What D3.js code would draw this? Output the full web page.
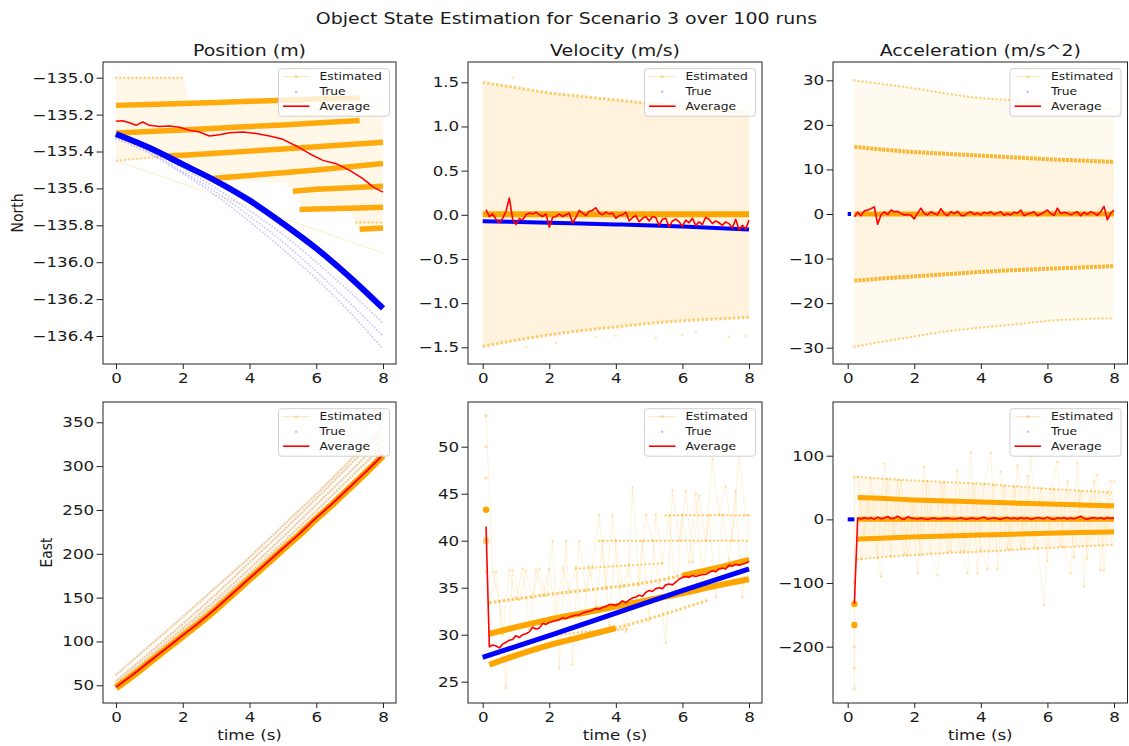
<!DOCTYPE html>
<html><head><meta charset="utf-8">
<script src="https://cdn.jsdelivr.net/npm/d3@7"></script>
<style>
body{margin:0;background:#fff}
svg{display:block}
text{font-family:"DejaVu Sans",sans-serif;fill:#1a1a1a}
</style>
</head><body>
<svg id="c" width="1129" height="746"></svg>
<script>
// ------------------------- DATA -------------------------
const suptitle = "Object State Estimation for Scenario 3 over 100 runs";
const colTitles = ["Position (m)", "Velocity (m/s)", "Acceleration (m/s^2)"];
const rowLabels = ["North", "East"];
const xLabel = "time (s)";
const legendLabels = ["Estimated", "True", "Average"];
const xTicks = [0, 2, 4, 6, 8];
const yTicksPosN = [-135.0, -135.2, -135.4, -135.6, -135.8, -136.0, -136.2, -136.4];
const yTicksVelN = [1.5, 1.0, 0.5, 0.0, -0.5, -1.0, -1.5];
const yTicksAccN = [30, 20, 10, 0, -10, -20, -30];
const yTicksPosE = [350, 300, 250, 200, 150, 100, 50];
const yTicksVelE = [50, 45, 40, 35, 30, 25];
const yTicksAccE = [100, 0, -100, -200];

const tSec = [0, 1, 2, 3, 4, 5, 6, 7, 8];
const tHalf = [0, 0.5, 1, 1.5, 2, 2.5, 3, 3.5, 4, 4.5, 5, 5.5, 6, 6.5, 7, 7.5, 8];
const tFine = [0.1,0.2,0.3,0.4,0.5,0.6,0.7,0.8,0.9,1.0,
  1.1,1.2,1.3,1.4,1.5,1.6,1.7,1.8,1.9,2.0,
  2.1,2.2,2.3,2.4,2.5,2.6,2.7,2.8,2.9,3.0,
  3.1,3.2,3.3,3.4,3.5,3.6,3.7,3.8,3.9,4.0,
  4.1,4.2,4.3,4.4,4.5,4.6,4.7,4.8,4.9,5.0,
  5.1,5.2,5.3,5.4,5.5,5.6,5.7,5.8,5.9,6.0,
  6.1,6.2,6.3,6.4,6.5,6.6,6.7,6.8,6.9,7.0,
  7.1,7.2,7.3,7.4,7.5,7.6,7.7,7.8,7.9,8.0];
const tOdd = [0.1,0.3,0.5,0.7,0.9,1.1,1.3,1.5,1.7,1.9,2.1,2.3,2.5,2.7,2.9,3.1,3.3,3.5,3.7,3.9,
  4.1,4.3,4.5,4.7,4.9,5.1,5.3,5.5,5.7,5.9,6.1,6.3,6.5,6.7,6.9,7.1,7.3,7.5,7.7,7.9];
const tEven = [0.2,0.4,0.6,0.8,1.0,1.2,1.4,1.6,1.8,2.0,2.2,2.4,2.6,2.8,3.0,3.2,3.4,3.6,3.8,4.0,
  4.2,4.4,4.6,4.8,5.0,5.2,5.4,5.6,5.8,6.0,6.2,6.4,6.6,6.8,7.0,7.2,7.4,7.6,7.8,8.0];

// --- Position North ---
const posN_b1_t = [0, 1, 2, 3, 4, 5, 6, 7.3];
const posN_b1_v = [-135.150, -135.145, -135.140, -135.134, -135.128, -135.122, -135.116, -135.110];
const posN_b2_t = [0, 1, 2, 3, 4, 5, 6, 7.3];
const posN_b2_v = [-135.300, -135.292, -135.283, -135.274, -135.265, -135.256, -135.246, -135.232];
const posN_b3a_t = [0, 1.5];
const posN_b3a_v = [-135.450, -135.425];
const posN_b3_t = [1.5, 2, 3, 4, 5, 6, 7, 8];
const posN_b3_v = [-135.425, -135.420, -135.410, -135.398, -135.386, -135.374, -135.362, -135.350];
const posN_b4_t = [2.8, 3.3, 4, 5, 6, 7, 8];
const posN_b4_v = [-135.548, -135.540, -135.530, -135.515, -135.500, -135.483, -135.465];
const posN_b5_t = [5.3, 6, 7, 8];
const posN_b5_v = [-135.615, -135.605, -135.596, -135.588];
const posN_b6_t = [5.5, 6, 7, 8];
const posN_b6_v = [-135.715, -135.712, -135.707, -135.702];
const posN_b7_t = [7.3, 8];
const posN_b7_v = [-135.822, -135.815];
const posN_b8_t = [7.2, 8];
const posN_b8_v = [-135.785, -135.785];
const posN_top_t = [0, 2];
const posN_top_v = [-135.0, -135.0];
const posN_diag_t = [0, 8];
const posN_diag_v = [-135.45, -135.95];
const posN_env_t = [0, 1, 2, 2.2, 3, 4, 5, 5.4, 5.6, 7, 7.3, 8];
const posN_env_hi = [-135.0, -135.0, -135.0, -135.13, -135.13, -135.125, -135.12, -135.12, -135.115, -135.11, -135.11, -135.11];
const posN_env_lo = [-135.45, -135.44, -135.45, -135.48, -135.56, -135.56, -135.57, -135.62, -135.72, -135.72, -135.83, -135.83];
const posN_true_main = [-135.305, -135.38, -135.47, -135.56, -135.665, -135.79, -135.925, -136.08, -136.25];
const posN_true_r1 = [-135.31, -135.39, -135.49, -135.60, -135.72, -135.85, -136.00, -136.16, -136.33];
const posN_true_r2 = [-135.32, -135.40, -135.51, -135.62, -135.75, -135.89, -136.05, -136.22, -136.40];
const posN_true_r3 = [-135.33, -135.41, -135.52, -135.64, -135.78, -135.93, -136.09, -136.27, -136.47];
const posN_avg_t = [0,0.2,0.4,0.6,0.8,1.0,1.3,1.6,1.9,2.2,2.5,2.8,3.1,3.4,3.8,4.2,4.6,5.0,5.4,5.8,6.2,6.6,7.0,7.4,7.7,8.0];
const posN_avg_v = [-135.236,-135.233,-135.244,-135.258,-135.240,-135.258,-135.264,-135.262,-135.269,-135.285,
  -135.294,-135.316,-135.309,-135.298,-135.294,-135.303,-135.316,-135.334,-135.370,-135.412,
  -135.448,-135.466,-135.502,-135.547,-135.592,-135.620];

// --- Velocity North ---
const velN_top_v = [1.50, 1.44, 1.38, 1.34, 1.30, 1.26, 1.22, 1.19, 1.16];
const velN_bot_v = [-1.49, -1.42, -1.36, -1.31, -1.27, -1.23, -1.20, -1.18, -1.16];
const velN_mid_t = [0, 8];
const velN_mid_v = [0.005, 0.005];
const velN_true_t = [0, 2, 4, 6, 8];
const velN_true_v = [-0.072, -0.090, -0.109, -0.133, -0.166];
const velN_out_t = [0.9, 1.3, 2.2, 3.4, 4.0, 5.2, 6.0, 6.4, 7.4, 7.9];
const velN_out_v = [1.55, -1.50, -1.45, -1.38, -1.37, -1.40, -1.36, -1.33, -1.38, -1.37];
const velN_avg = [0.06,-0.02,0.01,-0.05,-0.09,-0.04,0.04,0.19,-0.05,-0.11,
  -0.04,-0.06,0.0,0.02,0.01,0.03,0.0,-0.02,0.01,-0.14,
  -0.03,-0.02,0.01,-0.02,0.0,0.02,-0.09,-0.03,0.05,0.02,
  -0.01,0.04,0.05,0.08,0.02,0.0,0.03,0.01,0.02,-0.04,
  -0.01,0.0,0.03,-0.07,-0.03,-0.01,-0.08,-0.04,-0.02,-0.07,
  -0.02,-0.03,-0.12,-0.05,-0.04,-0.14,-0.07,-0.05,-0.08,-0.13,
  -0.06,-0.09,-0.04,-0.12,-0.08,-0.11,-0.03,-0.05,-0.10,-0.07,
  -0.09,-0.12,-0.08,-0.10,-0.15,-0.05,-0.17,-0.12,-0.16,-0.06];

// --- Acceleration North ---
const accN_t = [0.2, 1, 2, 3, 4, 5, 6, 7, 8];
const accN_p15 = [15.1, 14.5, 13.9, 13.5, 13.1, 12.7, 12.3, 12.0, 11.7];
const accN_m15 = [-15.0, -14.5, -14.0, -13.5, -13.0, -12.6, -12.3, -12.0, -11.7];
const accN_p30 = [30.0, 29.2, 28.2, 27.0, 26.0, 25.5, 25.0, 24.2, 23.5];
const accN_m30 = [-29.8, -28.7, -27.5, -26.3, -25.5, -24.8, -24.0, -23.6, -23.4];
const accN_mid_t = [0.2, 8];
const accN_mid_v = [0, 0];
const accN_true_t = [0, 0.1];
const accN_true_v = [0, 0];
const accN_avg = [-0.6,0.4,-0.4,0.7,0.9,1.2,1.6,-2.3,-0.2,
  0.5,-0.1,0.9,0.5,0.6,0.1,-0.2,-0.1,-0.3,-1.1,
  0.2,1.3,0.1,-0.2,0.5,0.1,-0.2,1.2,0.1,-0.4,
  0.5,0.1,0.6,-0.3,-0.4,0.2,0.5,-0.1,0.2,-0.2,
  0.4,0.1,0.5,-0.1,0.2,0.5,-0.3,0.1,-0.2,0.4,
  0.2,0.9,-0.4,0.0,0.2,0.5,-0.4,0.0,0.4,0.9,
  0.1,-0.3,1.3,0.1,0.4,0.2,-0.2,0.2,0.5,-0.4,
  0.4,-0.1,0.5,0.2,-0.3,0.5,1.7,-1.3,0.2,0.9];

// --- Position East ---
const posE_est_main = [47,61,76,91,106,121,137,154,171,188,205,222,240,257,275,293,312];
const posE_avg = [48,62,77,92,107,122,138,155,172,189,206,223,241,258,276,294,313];
const posE_run1 = [62, 95, 128, 162, 196, 232, 268, 306, 345];
const posE_run2 = [55, 87, 120, 154, 190, 226, 263, 301, 339];
const posE_run3 = [52, 83, 115, 148, 183, 219, 256, 293, 331];
const posE_run4 = [50, 80, 112, 144, 178, 213, 249, 286, 323];

// --- Velocity East ---
const velE_A_t = [0.2, 1, 2, 3, 4, 5, 6, 7, 8];
const velE_A_v = [30.1, 30.8, 31.6, 32.3, 33.0, 33.7, 34.4, 35.2, 35.9];
const velE_B_t = [0.2, 1, 2, 3, 4, 5, 6, 6.8];
const velE_B_v = [26.8, 27.8, 28.9, 29.8, 30.7, 31.7, 32.8, 33.7];
const velE_C_t = [0.2, 1, 2, 3, 4, 5, 6, 7, 8];
const velE_C_v = [33.4, 33.8, 34.3, 34.7, 35.1, 35.6, 36.3, 37.1, 38.0];
const velE_D_t = [3.5, 8];
const velE_D_v = [40.0, 40.0];
const velE_E_t = [2.8, 4, 5.5];
const velE_E_v = [37.0, 37.3, 37.6];
const velE_F_t = [5.5, 8];
const velE_F_v = [42.7, 42.7];
const velE_G_t = [2.0, 3.0, 4.4];
const velE_G_v = [29.8, 30.3, 30.6];
const velE_true_t = [0, 2, 4, 6, 8];
const velE_true_v = [27.6, 29.9, 32.3, 34.7, 37.0];
const velE_start_v = [53.3, 50.0, 46.7, 43.3, 40.0, 36.7];
const velE_start_n = [1, 2, 3, 30, 10, 2];
const velE_run1 = [53.3,36.7,33.5,24.3,36.9,33.7,36.8,33.9,37.0,34.1,
  40.0,26.4,40.0,26.8,40.0,34.6,37.3,42.8,34.9,42.7,
  35.0,30.3,45.7,35.2,42.8,40.0,35.5,29.1,45.4,40.0,
  45.3,37.7,44.8,40.0,48.7,42.8,45.8,40.0,49.0,42.7];
const velE_run2 = [33.4,36.7,30.0,36.9,33.8,37.0,30.5,36.9,34.2,37.0,
  31.6,37.1,34.5,37.2,29.8,37.3,33.0,40.0,31.0,40.0,
  35.1,37.5,33.5,40.0,31.5,42.8,37.6,42.7,34.5,42.8,
  37.7,45.0,36.0,42.7,34.0,42.8,37.9,45.3,34.0,42.7];
const velE_avg = [41.5,28.7,28.9,28.8,28.6,29.0,29.2,29.4,29.5,29.9,
  29.7,30.0,30.1,30.3,30.8,30.6,30.7,31.2,31.1,31.3,
  31.4,31.5,31.6,31.8,31.7,31.9,32.0,32.1,32.1,32.3,
  32.4,32.5,32.6,32.8,32.7,32.9,33.0,33.2,33.2,33.1,
  33.3,33.6,33.4,33.7,33.9,34.0,34.2,34.1,34.5,34.7,
  34.6,34.9,35.0,34.9,35.3,35.4,35.3,35.6,35.9,36.1,
  36.2,36.1,36.3,36.2,36.3,36.4,36.4,36.6,36.8,36.7,
  37.0,37.1,37.0,37.4,37.3,37.5,37.4,37.5,37.6,37.8];

// --- Acceleration East ---
const accE_t = [0.3, 1, 2, 3, 4, 5, 6, 7, 8];
const accE_p33 = [34.5, 33.0, 30.5, 28.8, 27.3, 25.6, 24.0, 22.6, 21.3];
const accE_m33 = [-31.0, -29.5, -27.5, -26.0, -24.6, -23.2, -22.0, -20.8, -19.6];
const accE_p66 = [67, 64, 61, 58.5, 56, 52, 48, 45, 42];
const accE_m66 = [-63, -59.5, -56, -53, -50.8, -48, -45, -42.5, -40];
const accE_mid_t = [0.3, 8];
const accE_mid_v = [0, 0];
const accE_true_t = [0, 0.1, 0.2];
const accE_true_v = [0, 0, 0];
const accE_start_v = [66, -100, -133, -166, -200, -233, -266];
const accE_start_n = [3, 5, 40, 30, 3, 2, 1];
const accE_run1 = [66,-30,64,-61,88,-58,62,-55,30,-85,83,-53,-88,58,-50,77,-49,105,-85,56,
  105,-78,52,-47,85,-46,100,-45,-135,48,90,-44,-85,88,-105,45,70,-80,60];
const accE_run2 = [-62,33,-31,-90,64,-30,61,-57,31,-56,60,-29,57,-52,28,-50,-85,55,-48,-78,
  53,75,-46,51,-45,68,-44,49,-65,47,-42,60,-60,44,-62,60,-80,42,60];
const accE_avg = [-133,2,0.5,3,1,2.5,0,3.5,1,
  2,4.5,1,2,5,1.5,0,4,2,1.5,
  0.5,2,1,0,1.5,2,0.5,1,1.5,2,
  1,0.5,1.5,2.5,1,0,2,1.5,0.5,2,
  3.5,0.5,1.5,2.5,1,0,2,3,1,2,
  0.5,3,1,2.5,0,1.5,3,2,1,3.5,
  1,0,2.5,1.5,3,0.5,2,1,2.5,5,
  1.5,0,2,3,1,2.5,0.5,3,1.5,2];

// ------------------------- DRAWING -------------------------
const svg = d3.select("#c");
const ORANGE = "#ffa500", BLUE = "#0000ff", RED = "#ff0000";
const SX = 1.2;
const fmt1 = d3.format(".1f"), fmt0 = d3.format("d");

function panel(id, box, xr, yd, yr) {
  const [L, T, R, B] = box;
  const x = d3.scaleLinear().domain([0, 8]).range(xr);
  const y = d3.scaleLinear().domain(yd).range(yr);
  const g = svg.append("g");
  svg.append("clipPath").attr("id", "clip" + id)
    .append("rect").attr("x", L).attr("y", T).attr("width", R - L).attr("height", B - T);
  const plot = g.append("g").attr("clip-path", `url(#clip${id})`);
  return {x, y, g, plot, L, T, R, B};
}

function line(p, ts, vs, st) {
  const data = d3.zip(ts, vs);
  const path = p.plot.append("path").datum(data)
    .attr("d", d3.line().x(d => p.x(d[0])).y(d => p.y(d[1])).curve(st.curve || d3.curveLinear))
    .attr("fill", "none").attr("stroke", st.stroke || ORANGE)
    .attr("stroke-width", st.width || 1).attr("stroke-opacity", st.opacity == null ? 1 : st.opacity)
    .attr("stroke-linecap", st.cap || "butt").attr("stroke-linejoin", "round");
  if (st.dash) path.attr("stroke-dasharray", st.dash);
  return path;
}
function area(p, ts, lo, hi, op, curve) {
  const data = d3.zip(ts, lo, hi);
  p.plot.append("path").datum(data)
    .attr("d", d3.area().x(d => p.x(d[0])).y0(d => p.y(d[1])).y1(d => p.y(d[2])).curve(curve || d3.curveLinear))
    .attr("fill", ORANGE).attr("fill-opacity", op);
}
function dots(p, ts, vs, r, op, color) {
  p.plot.append("g").selectAll("circle").data(d3.zip(ts, vs)).join("circle")
    .attr("cx", d => p.x(d[0])).attr("cy", d => p.y(d[1])).attr("r", r)
    .attr("fill", color || ORANGE).attr("fill-opacity", op);
}
function filterT(ts, vs, f) {
  const out = [[], []];
  ts.forEach((t, i) => { if (f(t)) { out[0].push(t); out[1].push(vs[i]); } });
  return out;
}

const S = {
  thick: {width: 5.5, opacity: 1},
  thick4: {width: 4.2, opacity: 0.95},
  med: {width: 3.5, opacity: 0.7, dash: "3 1.5"},
  dot: {width: 2.4, opacity: 0.5, dash: "0.1 4", cap: "round"},
  thin: {width: 1, opacity: 0.22},
  run: {width: 1, opacity: 0.16}
};
const mono = d3.curveMonotoneX;

function finish(p, yTicks, yFmt, title, ylabel, xlab) {
  const {g, L, T, R, B, x, y} = p;
  const xa = g.append("g").attr("transform", `translate(0,${B})`)
    .call(d3.axisBottom(x).tickValues(xTicks).tickSize(5).tickPadding(4.3).tickFormat(fmt0));
  const ya = g.append("g").attr("transform", `translate(${L},0)`)
    .call(d3.axisLeft(y).tickValues(yTicks).tickSize(6.5).tickFormat(yFmt));
  [xa, ya].forEach(a => {
    a.select(".domain").remove();
    a.attr("font-family", null).attr("font-size", null);
    a.selectAll("line").attr("stroke", "#222").attr("stroke-width", 1);
    a.selectAll("text").attr("font-size", 13.9).attr("fill", "#1a1a1a");
  });
  xa.selectAll("text").attr("transform", `scale(${SX},1)`);
  ya.selectAll("text").attr("x", 0).attr("transform", `translate(-8.8,0) scale(${SX},1)`);
  g.append("rect").attr("x", L).attr("y", T).attr("width", R - L).attr("height", B - T)
    .attr("fill", "none").attr("stroke", "#222").attr("stroke-width", 1);
  if (title) g.append("text").attr("transform", `translate(${(L + R) / 2},56) scale(${SX},1)`)
    .attr("text-anchor", "middle").attr("font-size", 15.8).text(title);
  if (ylabel) g.append("text")
    .attr("transform", `translate(${ylabel[0]},${(T + B) / 2}) scale(${SX},1) rotate(-90)`)
    .attr("text-anchor", "middle").attr("font-size", 13.9).text(ylabel[1]);
  if (xlab) g.append("text").attr("transform", `translate(${(L + R) / 2},740) scale(${SX},1)`)
    .attr("text-anchor", "middle").attr("font-size", 13.9).text(xLabel);
  // legend
  const bw = 111, bh = 47.5, bx = R - 6.5 - bw, by = T + 6.7;
  const lg = g.append("g");
  lg.append("rect").attr("x", bx).attr("y", by).attr("width", bw).attr("height", bh)
    .attr("rx", 3).attr("fill", "#fff").attr("fill-opacity", 0.8)
    .attr("stroke", "#d0d0d0").attr("stroke-width", 1);
  const rows = [by + 8, by + 23, by + 37.5];
  lg.append("line").attr("x1", bx + 4.5).attr("x2", bx + 31).attr("y1", rows[0]).attr("y2", rows[0])
    .attr("stroke", ORANGE).attr("stroke-opacity", 0.3).attr("stroke-width", 1);
  lg.append("circle").attr("cx", bx + 17.7).attr("cy", rows[0]).attr("r", 1.6).attr("fill", ORANGE).attr("fill-opacity", 0.35);
  lg.append("circle").attr("cx", bx + 17.7).attr("cy", rows[1]).attr("r", 1.3).attr("fill", BLUE).attr("fill-opacity", 0.25);
  lg.append("line").attr("x1", bx + 4.5).attr("x2", bx + 31).attr("y1", rows[2]).attr("y2", rows[2])
    .attr("stroke", RED).attr("stroke-width", 1.6);
  legendLabels.forEach((lab, i) => {
    lg.append("text").attr("transform", `translate(${bx + 41},${rows[i]}) scale(${SX},1)`)
      .attr("dy", "0.36em").attr("font-size", 10.3).text(lab);
  });
}

// suptitle
svg.append("text").attr("transform", `translate(566.5,24) scale(${SX},1)`)
  .attr("text-anchor", "middle").attr("font-size", 15.8).text(suptitle);

// ---------- Position North ----------
{
  const p = panel("pn", [103, 62, 396, 364], [116, 383], [-135.0, -136.4], [77.7, 336]);
  area(p, posN_env_t, posN_env_lo, posN_env_hi, 0.09);
  line(p, posN_top_t, posN_top_v, S.dot);
  line(p, posN_diag_t, posN_diag_v, S.thin);
  line(p, posN_b3a_t, posN_b3a_v, {width: 2, opacity: 0.45, dash: "2 2"});
  line(p, posN_b8_t, posN_b8_v, S.dot);
  [[posN_b1_t, posN_b1_v], [posN_b2_t, posN_b2_v], [posN_b3_t, posN_b3_v], [posN_b4_t, posN_b4_v],
   [posN_b5_t, posN_b5_v], [posN_b6_t, posN_b6_v], [posN_b7_t, posN_b7_v]]
    .forEach(([t, v]) => line(p, t, v, {width: 5.5, opacity: 0.95}));
  [posN_true_r3, posN_true_r2, posN_true_r1].forEach(v =>
    line(p, tSec, v, {stroke: BLUE, width: 1.8, opacity: 0.22, dash: "0.1 3.2", cap: "round", curve: mono}));
  line(p, tSec, posN_true_main, {stroke: BLUE, width: 6, opacity: 1, curve: mono});
  line(p, posN_avg_t, posN_avg_v, {stroke: RED, width: 1.5});
  finish(p, yTicksPosN, fmt1, colTitles[0], [23, rowLabels[0]], false);
}

// ---------- Velocity North ----------
{
  const p = panel("vn", [468, 62, 762, 364], [482.7, 749], [1.5, -1.5], [82.3, 347.3]);
  area(p, tSec, velN_bot_v, velN_top_v, 0.13, mono);
  line(p, tSec, velN_top_v, {width: 3, opacity: 0.55, dash: "2.5 2", curve: mono});
  line(p, tSec, velN_bot_v, {width: 3, opacity: 0.55, dash: "2.5 2", curve: mono});
  dots(p, velN_out_t, velN_out_v, 1.3, 0.3);
  line(p, velN_mid_t, velN_mid_v, {width: 6, opacity: 1});
  line(p, velN_true_t, velN_true_v, {stroke: BLUE, width: 4, opacity: 1, curve: mono});
  line(p, tFine, velN_avg, {stroke: RED, width: 1.6});
  finish(p, yTicksVelN, fmt1, colTitles[1], null, false);
}

// ---------- Acceleration North ----------
{
  const p = panel("an", [833, 62, 1127.5, 364], [847.7, 1114], [30, -30], [80.3, 347.7]);
  area(p, accN_t, accN_p15, accN_p30, 0.06, mono);
  area(p, accN_t, accN_m30, accN_m15, 0.06, mono);
  area(p, accN_t, accN_m15, accN_p15, 0.12, mono);
  line(p, accN_t, accN_p30, Object.assign({curve: mono}, S.dot));
  line(p, accN_t, accN_m30, Object.assign({curve: mono}, S.dot));
  line(p, accN_t, accN_p15, {width: 4, opacity: 0.8, dash: "3 1", curve: mono});
  line(p, accN_t, accN_m15, {width: 4, opacity: 0.8, dash: "3 1", curve: mono});
  line(p, accN_mid_t, accN_mid_v, {width: 5, opacity: 1});
  line(p, accN_true_t, accN_true_v, {stroke: BLUE, width: 4, opacity: 1});
  line(p, tFine.slice(1), accN_avg, {stroke: RED, width: 1.6});
  finish(p, yTicksAccN, fmt0, colTitles[2], null, false);
}

// ---------- Position East ----------
{
  const p = panel("pe", [103, 402, 396, 703], [116, 383], [350, 50], [422.3, 685.3]);
  [posE_run1, posE_run2, posE_run3, posE_run4].forEach(v => {
    line(p, tSec, v, {stroke: "#f3d3a0", width: 3, opacity: 0.35, curve: mono});
    line(p, tSec, v, {stroke: "#c8a070", width: 1.8, opacity: 0.5, dash: "0.1 3", cap: "round", curve: mono});
  });
  line(p, tHalf, posE_est_main, {width: 7, opacity: 1, curve: mono});
  line(p, tHalf, posE_avg, {stroke: RED, width: 2, curve: mono});
  finish(p, yTicksPosE, fmt0, null, [51.7, rowLabels[1]], true);
}

// ---------- Velocity East ----------
{
  const p = panel("ve", [468, 402, 762, 703], [482.7, 749], [50, 25], [446.7, 681.7]);
  line(p, tOdd, velE_run1, S.run);
  line(p, tEven, velE_run2, S.run);
  dots(p, tOdd, velE_run1, 1.2, 0.3);
  dots(p, tEven, velE_run2, 1.2, 0.3);
  line(p, velE_D_t, velE_D_v, S.dot);
  line(p, velE_E_t, velE_E_v, S.dot);
  line(p, velE_F_t, velE_F_v, S.dot);
  line(p, velE_G_t, velE_G_v, S.dot);
  line(p, velE_B_t, velE_B_v, {width: 3, opacity: 0.55, dash: "2.5 2", curve: mono});
  line(p, velE_C_t, velE_C_v, {width: 3, opacity: 0.6, dash: "2.5 2", curve: mono});
  const bThick = filterT(velE_B_t, velE_B_v, t => t <= 4);
  line(p, bThick[0], bThick[1], {width: 6, opacity: 1, curve: mono});
  const cThick = filterT(velE_C_t, velE_C_v, t => t >= 6);
  line(p, cThick[0], cThick[1], {width: 5.5, opacity: 1, curve: mono});
  line(p, velE_A_t, velE_A_v, {width: 6, opacity: 1, curve: mono});
  line(p, velE_true_t, velE_true_v, {stroke: BLUE, width: 5, opacity: 1, curve: mono});
  velE_start_v.forEach((v, i) => {
    const n = velE_start_n[i];
    p.plot.append("circle").attr("cx", p.x(0.1)).attr("cy", p.y(v))
      .attr("r", n > 5 ? 3.2 : 1.8).attr("fill", ORANGE).attr("fill-opacity", Math.min(1, 0.2 + n / 30));
  });
  line(p, tFine, velE_avg, {stroke: RED, width: 1.6});
  finish(p, yTicksVelE, fmt0, null, null, true);
}

// ---------- Acceleration East ----------
{
  const p = panel("ae", [833, 402, 1127.5, 703], [847.7, 1114], [100, -200], [455.7, 646.7]);
  area(p, accE_t, accE_m66, accE_p66, 0.07, mono);
  area(p, accE_t, accE_m33, accE_p33, 0.06, mono);
  line(p, tOdd.slice(1), accE_run1, {width: 1, opacity: 0.13});
  line(p, tEven.slice(1), accE_run2, {width: 1, opacity: 0.13});
  dots(p, tOdd.slice(1), accE_run1, 1.2, 0.3);
  dots(p, tEven.slice(1), accE_run2, 1.2, 0.3);
  line(p, accE_t, accE_p66, Object.assign({curve: mono}, S.dot));
  line(p, accE_t, accE_m66, Object.assign({curve: mono}, S.dot));
  line(p, accE_t, accE_p33, {width: 5, opacity: 1, curve: mono});
  line(p, accE_t, accE_m33, {width: 5, opacity: 1, curve: mono});
  line(p, accE_mid_t, accE_mid_v, {width: 5, opacity: 1});
  line(p, accE_start_v.map(() => 0.2), accE_start_v, {width: 1, opacity: 0.2});
  accE_start_v.forEach((v, i) => {
    const n = accE_start_n[i];
    p.plot.append("circle").attr("cx", p.x(0.2)).attr("cy", p.y(v))
      .attr("r", n > 5 ? 3.2 : 1.8).attr("fill", ORANGE).attr("fill-opacity", Math.min(1, 0.2 + n / 30));
  });
  line(p, accE_true_t, accE_true_v, {stroke: BLUE, width: 4, opacity: 1});
  line(p, tFine.slice(1), accE_avg, {stroke: RED, width: 1.6});
  finish(p, yTicksAccE, fmt0, null, null, true);
}
</script>
</body></html>
